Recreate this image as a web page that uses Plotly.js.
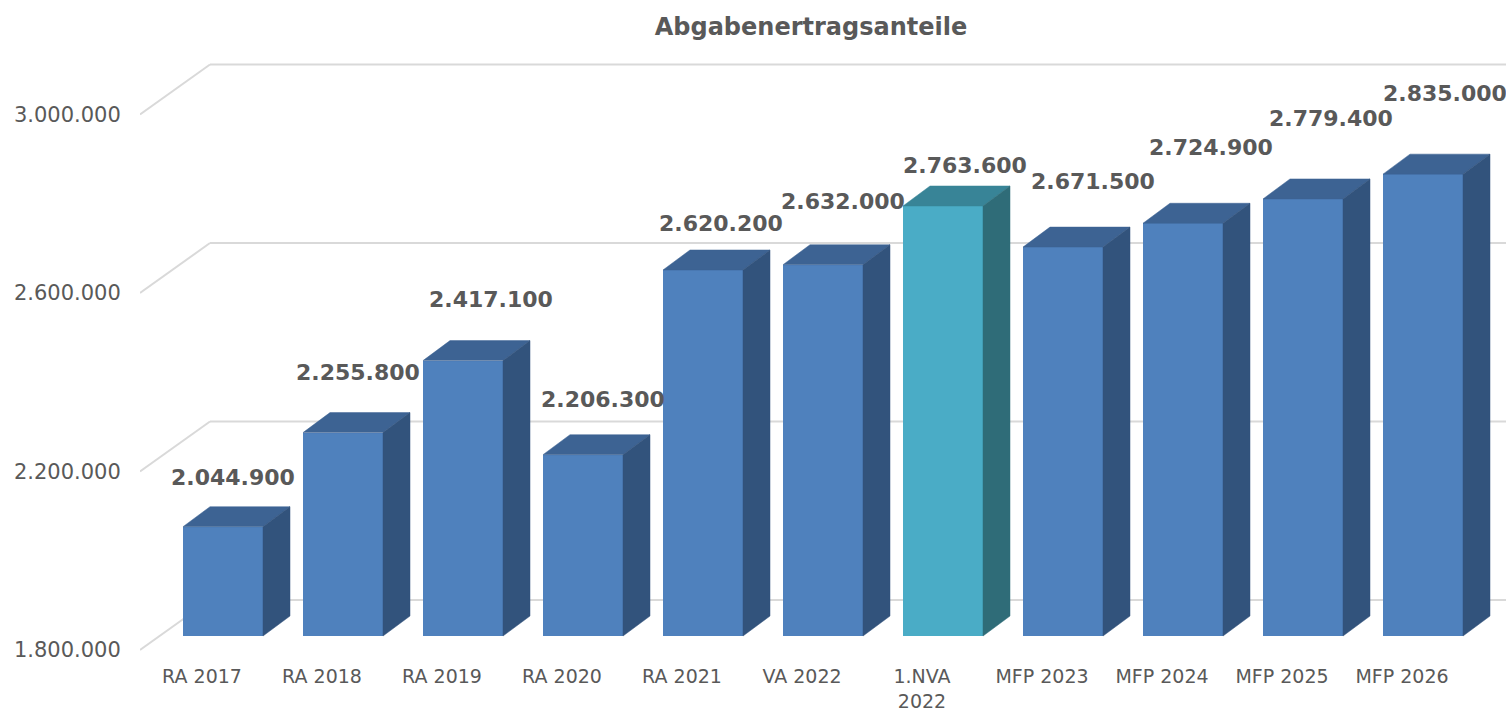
<!DOCTYPE html>
<html>
<head>
<meta charset="utf-8">
<script src="https://cdn.plot.ly/plotly-3.0.1.min.js"></script>
<style>html,body{margin:0;padding:0;background:#fff;}#chart{width:1506px;height:713px;}</style>
</head>
<body>
<div id="chart"></div>
<script>
// ---- data ----
const categories = ['RA 2017','RA 2018','RA 2019','RA 2020','RA 2021','VA 2022','1.NVA<br>2022','MFP 2023','MFP 2024','MFP 2025','MFP 2026'];
const values = [2044900, 2255800, 2417100, 2206300, 2620200, 2632000, 2763600, 2671500, 2724900, 2779400, 2835000];
const highlighted = [false, false, false, false, false, false, true, false, false, false, false];
const yTickValues = [1800000, 2200000, 2600000, 3000000];
const yTickLabels = ['1.800.000', '2.200.000', '2.600.000', '3.000.000'];
const axisMin = 1800000;

// ---- layout / style (pixel geometry of the pseudo 3D view) ----
const W = 1506, H = 713;
const L = 140, R = 1506, T = 55, B = 660;
const FLOOR_PX = 650;                 // front edge of floor (value axisMin)
const K = 178.5 / 400000;             // px per value unit
const CAT_PX = 120, CAT0_PX = 202;    // category spacing / first category px
const WALL_DX = 70, WALL_DY = 50;     // depth of back wall
const BAR_DX = 21, BAR_DY = 14;       // bar front face set back
const BAR_W = 80, SIDE_DX = 27, SIDE_DY = 20;
// data label nudges [px right, px up] relative to front-top centre of each bar
const labelNudge = [[10,49],[15,60],[28,61],[20,55],[18,46],[20,63],[22,40],[30,66],[28,76],[28,80],[22,81]];

const col = {
  front: '#4f81bd', top: '#3d6393', side: '#32537c',
  hfront: '#4aacc6', htop: '#388497', hside: '#2f6c78',
  grid: '#d9d9d9', text: '#595959'
};
const FONT = 'DejaVu Sans, sans-serif';

const dxu = px => px / CAT_PX;
const dyu = px => px / K;
const xMin = (L - CAT0_PX) / CAT_PX, xMax = (R - CAT0_PX) / CAT_PX;
const yMin = axisMin - (B - FLOOR_PX) / K, yMax = axisMin + (FLOOR_PX - T) / K;

function fmt(v) { return String(v).replace(/\B(?=(\d{3})+(?!\d))/g, '.'); }

const idx = categories.map((c, i) => i);
const traces = [];

// front faces as real bars
traces.push({
  type: 'bar',
  x: idx.map(i => i + dxu(BAR_DX)),
  y: values.map(v => v - axisMin),
  base: values.map(() => axisMin + dyu(BAR_DY)),
  width: dxu(BAR_W),
  marker: { color: highlighted.map(h => h ? col.hfront : col.front), line: { width: 0 } },
  hoverinfo: 'skip', showlegend: false
});

// top and side faces
values.forEach((v, i) => {
  const xl = i + dxu(BAR_DX) - dxu(BAR_W) / 2;
  const xr = i + dxu(BAR_DX) + dxu(BAR_W) / 2;
  const base = axisMin + dyu(BAR_DY);
  const top = v + dyu(BAR_DY);
  const sx = dxu(SIDE_DX), sy = dyu(SIDE_DY);
  const h = highlighted[i];
  traces.push({
    type: 'scatter', mode: 'lines', fill: 'toself',
    x: [xl, xr, xr + sx, xl + sx, xl],
    y: [top, top, top + sy, top + sy, top],
    fillcolor: h ? col.htop : col.top, line: { color: h ? col.htop : col.top, width: 0.5 },
    hoverinfo: 'skip', showlegend: false
  });
  traces.push({
    type: 'scatter', mode: 'lines', fill: 'toself',
    x: [xr, xr, xr + sx, xr + sx, xr],
    y: [base, top, top + sy, base + sy, base],
    fillcolor: h ? col.hside : col.side, line: { color: h ? col.hside : col.side, width: 0.5 },
    hoverinfo: 'skip', showlegend: false
  });
});

// gridlines on back wall and left floor diagonal
const shapes = [];
yTickValues.forEach(v => {
  shapes.push({ type: 'line', xref: 'x', yref: 'y', layer: 'below',
    x0: xMin + dxu(WALL_DX), x1: xMax, y0: v + dyu(WALL_DY), y1: v + dyu(WALL_DY),
    line: { color: col.grid, width: 2 } });
  shapes.push({ type: 'line', xref: 'x', yref: 'y', layer: 'below',
    x0: xMin, x1: xMin + dxu(WALL_DX), y0: v, y1: v + dyu(WALL_DY),
    line: { color: col.grid, width: 2 } });
});

// data labels
const annotations = values.map((v, i) => ({
  x: i + dxu(BAR_DX), y: v + dyu(BAR_DY), xref: 'x', yref: 'y',
  text: '<b>' + fmt(v) + '</b>', showarrow: false,
  xanchor: 'center', yanchor: 'middle',
  xshift: labelNudge[i][0], yshift: labelNudge[i][1],
  font: { family: FONT, size: 22, color: col.text }
}));

const layout = {
  width: W, height: H,
  margin: { l: L, r: W - R, t: T, b: H - B, pad: 0 },
  paper_bgcolor: '#ffffff', plot_bgcolor: 'rgba(0,0,0,0)',
  showlegend: false,
  title: { text: '<b>Abgabenertragsanteile</b>', x: 811 / W, xanchor: 'center', xref: 'container',
           y: 1 - 27 / H, yanchor: 'middle', yref: 'container',
           font: { family: FONT, size: 24, color: col.text } },
  xaxis: { range: [xMin, xMax], tickvals: idx, ticktext: categories,
           showgrid: false, zeroline: false, showline: false,
           ticks: '', ticklabelstandoff: 3,
           tickfont: { family: FONT, size: 19, color: col.text }, fixedrange: true },
  yaxis: { range: [yMin, yMax], tickvals: yTickValues, ticktext: yTickLabels,
           showgrid: false, zeroline: false, showline: false,
           ticks: 'outside', ticklen: 14, tickcolor: 'rgba(0,0,0,0)',
           tickfont: { family: FONT, size: 21, color: col.text }, fixedrange: true },
  bargap: 0,
  shapes: shapes,
  annotations: annotations
};

Plotly.newPlot('chart', traces, layout, { displayModeBar: false, staticPlot: true });
</script>
</body>
</html>
